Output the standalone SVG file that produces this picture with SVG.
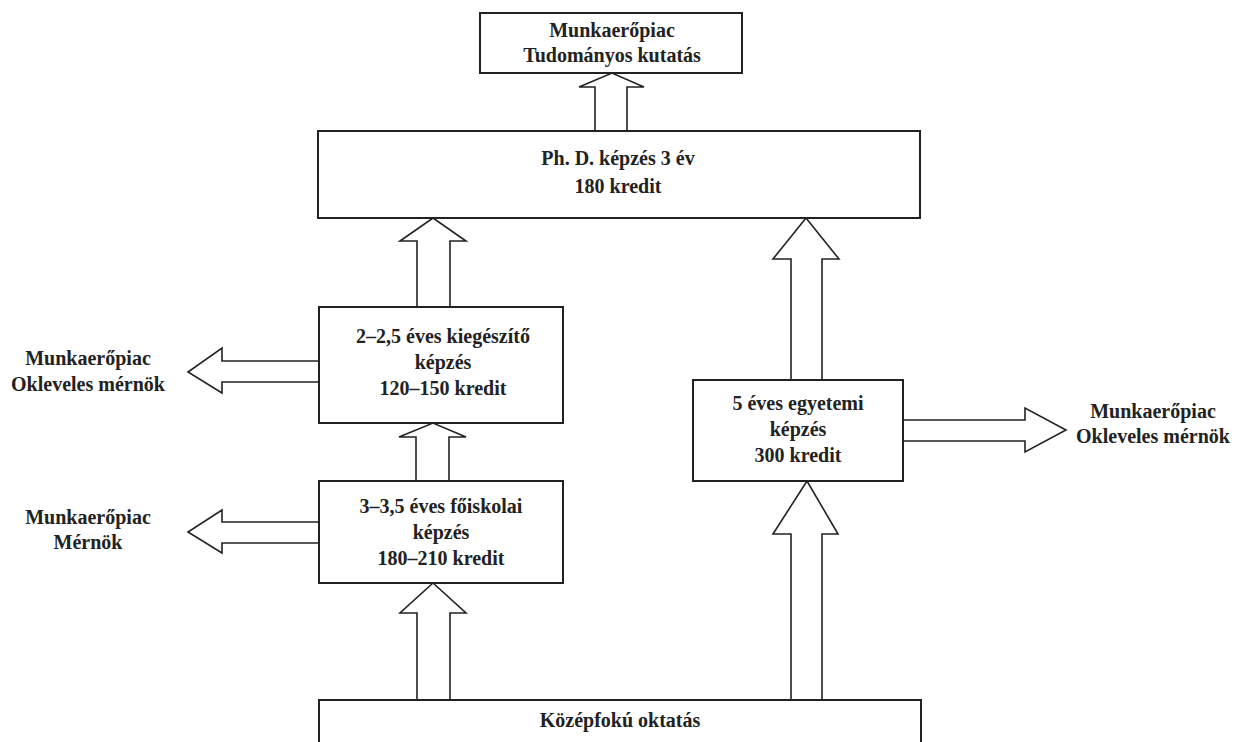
<svg xmlns="http://www.w3.org/2000/svg" width="1235" height="742" viewBox="0 0 1235 742">
<style>
.box{fill:#fff;stroke:#222;stroke-width:2}
.arr{fill:#fff;stroke:#222;stroke-width:1.6;stroke-linejoin:miter}
text{font-family:"Liberation Serif","Times New Roman",serif;font-weight:bold;font-size:20px;fill:#222;text-anchor:middle}
</style>
<rect width="1235" height="742" fill="#fff"/>
<g id="connectors">
<polygon class="arr" points="595,131 595,87 579,87 612,73 644,87 627,87 627,131"/>
<polygon class="arr" points="417,307 417,241 400,241 433,218 466,241 450,241 450,307"/>
<polygon class="arr" points="791,380 791,259 773,259 806,218 839,259 822,259 822,380"/>
<polygon class="arr" points="416,481 416,437 399,437 433,423 466,437 449,437 449,481"/>
<polygon class="arr" points="417,700 417,613 400,613 433,583 466,613 450,613 450,700"/>
<polygon class="arr" points="791,700 791,534 773,534 807,481 838,534 822,534 822,700"/>
<polygon class="arr" points="319,361 222,361 222,348 188,372 222,393 222,382 319,382"/>
<polygon class="arr" points="319,522 222,522 222,510 188,532 222,553 222,543 319,543"/>
<polygon class="arr" points="903,420 1025,420 1025,408 1066,430 1025,452 1025,441 903,441"/>
</g>
<g id="munkaeropiac-kutatas">
<rect class="box" x="480" y="13" width="262" height="60"/>
<text x="612" y="37">Munkaerőpiac</text>
<text x="612" y="62">Tudományos kutatás</text>
</g>
<g id="phd">
<rect class="box" x="318" y="131" width="602" height="87"/>
<text x="618" y="165">Ph. D. képzés 3 év</text>
<text x="618" y="193">180 kredit</text>
</g>
<g id="kiegeszito">
<rect class="box" x="319" y="307" width="244" height="116"/>
<text x="443" y="343">2–2,5 éves kiegészítő</text>
<text x="443" y="369">képzés</text>
<text x="443" y="395">120–150 kredit</text>
</g>
<g id="foiskolai">
<rect class="box" x="319" y="481" width="244" height="102"/>
<text x="441" y="513">3–3,5 éves főiskolai</text>
<text x="441" y="539">képzés</text>
<text x="441" y="565">180–210 kredit</text>
</g>
<g id="egyetemi">
<rect class="box" x="693" y="380" width="210" height="101"/>
<text x="798" y="410">5 éves egyetemi</text>
<text x="798" y="436">képzés</text>
<text x="798" y="462">300 kredit</text>
</g>
<g id="kozepfoku">
<rect class="box" x="319" y="700" width="602" height="60"/>
<text x="620" y="727">Középfokú oktatás</text>
</g>
<g id="label-okleveles-left">
<text x="88" y="365">Munkaerőpiac</text>
<text x="88" y="391">Okleveles mérnök</text>
</g>
<g id="label-mernok">
<text x="88" y="524">Munkaerőpiac</text>
<text x="88" y="549">Mérnök</text>
</g>
<g id="label-okleveles-right">
<text x="1153" y="418">Munkaerőpiac</text>
<text x="1153" y="443">Okleveles mérnök</text>
</g>
</svg>
